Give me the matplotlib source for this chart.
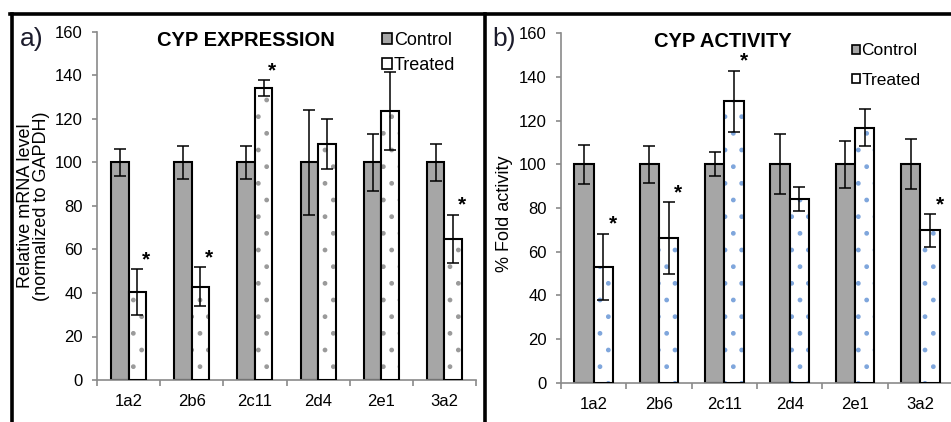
import matplotlib
matplotlib.use("Agg")
import matplotlib.pyplot as plt
import numpy as np
from matplotlib.lines import Line2D
from matplotlib.patches import Patch

plt.rcParams['font.family'] = ['Liberation Sans', 'DejaVu Sans']

categories = ['1a2', '2b6', '2c11', '2d4', '2e1', '3a2']

a_ctrl = [100, 100, 100, 100, 100, 100]
a_ctrl_err = [6, 7.5, 7.5, 24, 13, 8.5]
a_trt = [40.5, 42.8, 134.2, 108.4, 123.7, 65]
a_trt_err = [10.5, 9, 3.7, 11.5, 18, 11]
a_sig = [True, True, True, False, False, True]

b_ctrl = [100, 100, 100, 100, 100, 100]
b_ctrl_err = [9, 8.5, 5.5, 13.7, 10.7, 11.4]
b_trt = [53.1, 66.1, 128.8, 84.2, 116.8, 69.7]
b_trt_err = [15.2, 16.5, 14, 5.5, 8.5, 7.6]
b_sig = [True, True, True, False, False, True]

yticks = [0, 20, 40, 60, 80, 100, 120, 140, 160]

W, H = 951, 422
fig = plt.figure(figsize=(W / 100, H / 100), dpi=100)

def px_axes(x0, x1, ytop, ybot):
    return fig.add_axes([x0 / W, (H - ybot) / H, (x1 - x0) / W, (ybot - ytop) / H])

ax_a = px_axes(97, 476, 32, 380)
ax_b = px_axes(561, 953, 33.3, 382.7)

GREY_AX = '#8a8a8a'

def panel(ax, ctrl, ctrl_err, trt, trt_err, sig, width, dotcolor, title, tx,
          ylabel, letter, letter_x, leg_anchor, leg_spacing, leg_fs, leg_hl):
    n = len(categories)
    x = np.arange(n) + 0.5
    xc = x - width / 2
    xt = x + width / 2
    ax.bar(xc, ctrl, width, color='#a6a6a6', edgecolor='black', linewidth=1.5, zorder=2)
    # hatch layer for treated
    ax.bar(xt, trt, width, color='white', edgecolor=dotcolor, hatch='.', linewidth=0, zorder=2)
    ax.bar(xt, trt, width, color='none', edgecolor='black', linewidth=1.5, zorder=3)
    ekw = dict(fmt='none', ecolor='black', elinewidth=1.1, capsize=4.3, capthick=1.1, zorder=4)
    ax.errorbar(xc, ctrl, yerr=ctrl_err, **ekw)
    ax.errorbar(xt, trt, yerr=trt_err, **ekw)
    for xi, v, e, s in zip(xt, trt, trt_err, sig):
        if s:
            ax.text(xi + width * 0.5, v + e, '*', ha='center', va='bottom',
                    fontsize=15, fontweight='bold', zorder=5)
    ax.set_xlim(0, n)
    ax.set_ylim(0, 160)
    ax.set_yticks(yticks)
    ax.set_xticks(np.arange(n + 1))
    ax.set_xticklabels([])
    ax.set_xticks(x, minor=True)
    ax.set_xticklabels(categories, minor=True, fontsize=12)
    ax.tick_params(axis='x', which='major', direction='out', length=4.3, color=GREY_AX, width=1.2)
    ax.tick_params(axis='x', which='minor', length=0, pad=10)
    ax.tick_params(axis='y', direction='out', length=3.6, color=GREY_AX, width=1.2, labelsize=12, pad=6.5)
    for s in ['top', 'right']:
        ax.spines[s].set_visible(False)
    for s in ['left', 'bottom']:
        ax.spines[s].set_color(GREY_AX)
        ax.spines[s].set_linewidth(1.2)
    ax.text(tx, 0.977, title, transform=ax.transAxes, ha='center', va='center',
            fontsize=14.5, fontweight='bold')
    ax.set_ylabel(ylabel, fontsize=13, linespacing=0.9)
    fig.text(letter_x / W, 1 - 39 / H, letter, fontsize=19, ha='left', va='center', color='#1c1c2c')
    handles = [Patch(facecolor='#a6a6a6', edgecolor='black', linewidth=1.2),
               Patch(facecolor='white', edgecolor='black', linewidth=1.2)]
    ax.legend(handles, ['Control', 'Treated'], loc='upper left', bbox_to_anchor=leg_anchor,
              frameon=False, fontsize=leg_fs, handlelength=leg_hl, handleheight=leg_hl,
              handletextpad=0.1, borderpad=0, borderaxespad=0, labelspacing=leg_spacing)

panel(ax_a, a_ctrl, a_ctrl_err, a_trt, a_trt_err, a_sig, 0.276, '#9a9a9a',
      'CYP EXPRESSION', 0.394, 'Relative mRNA level\n(normalized to GAPDH)', 'a)', 20,
      (0.752, 1.0), 0.45, 13, 0.55)
panel(ax_b, b_ctrl, b_ctrl_err, b_trt, b_trt_err, b_sig, 0.296, '#7fa6dc',
      'CYP ACTIVITY', 0.413, '% Fold activity', 'b)', 492,
      (0.742, 0.971), 0.82, 12.5, 0.45)
ax_a.yaxis.set_label_coords(-0.124, 0.5)
ax_b.yaxis.set_label_coords(-0.122, 0.483)

# panel frames
lw = 2.6
fig.add_artist(Line2D([10 / W, 1.0], [1 - 13.5 / H] * 2, transform=fig.transFigure, color='black', lw=lw))
fig.add_artist(Line2D([12 / W] * 2, [0, 1 - 13.5 / H], transform=fig.transFigure, color='black', lw=lw))
fig.add_artist(Line2D([485 / W] * 2, [0, 1 - 13.5 / H], transform=fig.transFigure, color='black', lw=lw))

fig.savefig('out.png', dpi=100)
